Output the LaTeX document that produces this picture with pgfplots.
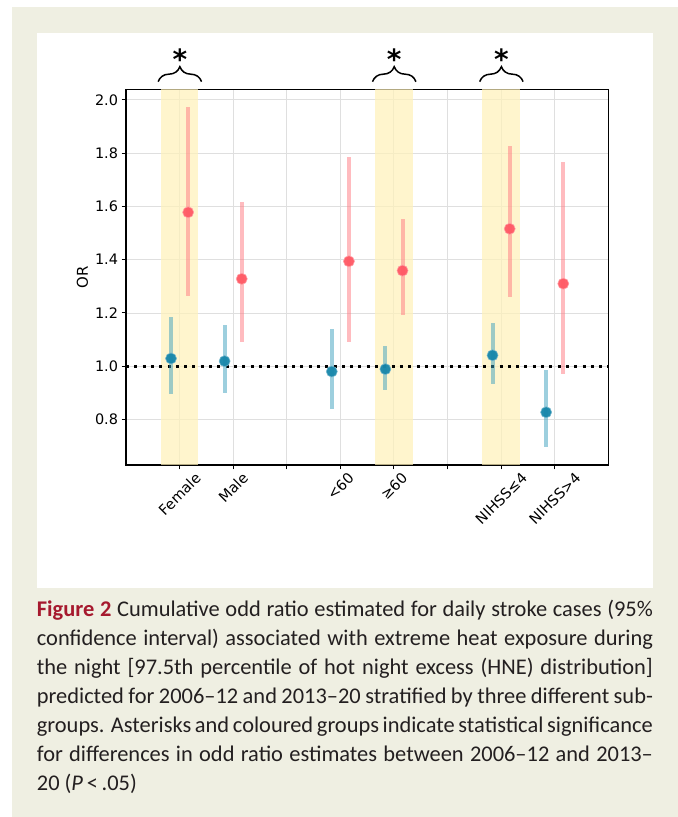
\documentclass[border=0pt]{standalone}
\usepackage{pgfplots}
\pgfplotsset{compat=1.18}
\usepackage{pgfplotstable}
\usepackage{fontspec}
\setmainfont{Carlito}
\newfontfamily\dejavu{DejaVu Sans}
\usetikzlibrary{decorations.pathreplacing}
\definecolor{beige}{RGB}{239,239,226}
\definecolor{band}{RGB}{255,242,185}
\definecolor{bluept}{RGB}{22,134,170}
\definecolor{bluelt}{RGB}{60,160,190}
\definecolor{redpt}{RGB}{255,88,100}
\definecolor{redlt}{RGB}{255,120,128}
\definecolor{figred}{RGB}{166,25,46}
\definecolor{captext}{RGB}{35,31,32}
\newcommand{\tickfont}{\dejavu\fontsize{14.5}{16}\selectfont}

\pgfplotstableread{
x y lo hi
-0.16 1.029 0.894 1.185
0.84 1.019 0.899 1.153
2.84 0.980 0.841 1.141
3.84 0.989 0.909 1.076
5.84 1.041 0.933 1.164
6.84 0.827 0.696 0.984
}\bluedata

\pgfplotstableread{
x y lo hi
0.16 1.578 1.262 1.975
1.16 1.328 1.090 1.616
3.16 1.394 1.090 1.787
4.16 1.359 1.191 1.554
6.16 1.516 1.259 1.828
7.16 1.310 0.971 1.768
}\reddata

\begin{document}
\begin{tikzpicture}[x=1bp,y=1bp]
\fill[white] (0,0) rectangle (678,817);
\fill[beige] (12,0) rectangle (678,810);
\fill[white] (36.5,229) rectangle (652.7,784);
\begin{axis}[
  at={(126bp,352bp)}, anchor=south west, scale only axis,
  width=482.3bp, height=375.7bp,
  xmin=-1, xmax=8, ymin=0.629, ymax=2.04,
  axis line style={black, line width=1.1bp},
  tick align=outside, tick pos=left,
  major tick length=4.5bp,
  every tick/.style={black, line width=1bp},
  xtick={0,1,2,3,4,5,6,7},
  xticklabels={\rotatebox{45}{Female},\rotatebox{45}{Male},,\rotatebox{45}{<60},\rotatebox{45}{≥60},,\rotatebox{45}{NIHSS≤4},\rotatebox{45}{NIHSS>4}},
  x tick label style={anchor=north, inner sep=2bp, font=\tickfont},
  ytick={0.8,1,1.2,1.4,1.6,1.8,2},
  y tick label style={font=\tickfont},
  yticklabel style={/pgf/number format/.cd, fixed, fixed zerofill, precision=1},
  /pgf/number format/assume math mode=true,
  grid=major, major grid style={gray!25, line width=0.9bp},
  ylabel={OR}, ylabel style={font=\dejavu\fontsize{15}{17}\selectfont},
]
% highlighted groups
\addplot[fill=band, fill opacity=0.7, draw=none] coordinates {(-0.35,0.6) (0.35,0.6) (0.35,2.1) (-0.35,2.1)};
\addplot[fill=band, fill opacity=0.7, draw=none] coordinates {(3.65,0.6) (4.35,0.6) (4.35,2.1) (3.65,2.1)};
\addplot[fill=band, fill opacity=0.7, draw=none] coordinates {(5.65,0.6) (6.35,0.6) (6.35,2.1) (5.65,2.1)};
% reference line
\addplot[black, line width=3bp, dash pattern=on 3bp off 5.3bp] coordinates {(-1,1) (8,1)};
% confidence intervals
\addplot[draw=none, mark=none, error bars/.cd, y dir=both, y explicit, error mark=none,
  error bar style={draw=bluelt, line width=4bp, opacity=0.5}]
  table[x=x, y=y, y error plus expr=\thisrow{hi}-\thisrow{y}, y error minus expr=\thisrow{y}-\thisrow{lo}] {\bluedata};
\addplot[draw=none, mark=none, error bars/.cd, y dir=both, y explicit, error mark=none,
  error bar style={draw=redlt, line width=4bp, opacity=0.5}]
  table[x=x, y=y, y error plus expr=\thisrow{hi}-\thisrow{y}, y error minus expr=\thisrow{y}-\thisrow{lo}] {\reddata};
% points
\addplot[only marks, mark=*, mark size=5.5bp, mark options={fill=bluept, draw=bluept!60!white, line width=0.6bp, opacity=0.95}] table[x=x, y=y] {\bluedata};
\addplot[only marks, mark=*, mark size=5.5bp, mark options={fill=redpt, draw=redpt!60!white, line width=0.6bp, opacity=0.95}] table[x=x, y=y] {\reddata};
% brace anchors
\coordinate (b1l) at (axis cs:-0.40,2.0686);
\coordinate (b1r) at (axis cs:0.41,2.0686);
\coordinate (b2l) at (axis cs:3.60,2.0686);
\coordinate (b2r) at (axis cs:4.41,2.0686);
\coordinate (b3l) at (axis cs:5.60,2.0686);
\coordinate (b3r) at (axis cs:6.41,2.0686);
\coordinate (s1) at (axis cs:0.005,2.1725);
\coordinate (s2) at (axis cs:4.005,2.1725);
\coordinate (s3) at (axis cs:6.005,2.1725);
\end{axis}
\foreach \i in {1,2,3}{
  \draw[decorate, decoration={brace, amplitude=15bp}, line width=1.5bp] (b\i l) -- (b\i r);
  \node[anchor=base, inner sep=0, yshift=-15bp] at (s\i) {\dejavu\bfseries\fontsize{28}{28}\selectfont *};
}
% caption
\node[anchor=base west, inner sep=0, text width=616bp, align=justify, text=captext] at (36.7,200.3)
{\fontsize{22.5}{29}\selectfont\hyphenpenalty=10000\exhyphenpenalty=10000
{\bfseries\color{figred}Figure~2} Cumulative odd ratio estimated for daily stroke cases (95\%\linebreak
confidence interval) associated with extreme heat exposure during\linebreak
the night [97.5th percentile of hot night excess (HNE) distribution]\linebreak
predicted for 2006–12 and 2013–20 stratified by three different sub-\linebreak
groups. Asterisks and coloured groups indicate statistical significance\linebreak
for differences in odd ratio estimates between 2006–12 and 2013–\linebreak
20 (\textit{P}\,<\,.05)\par};
\end{tikzpicture}
\end{document}
